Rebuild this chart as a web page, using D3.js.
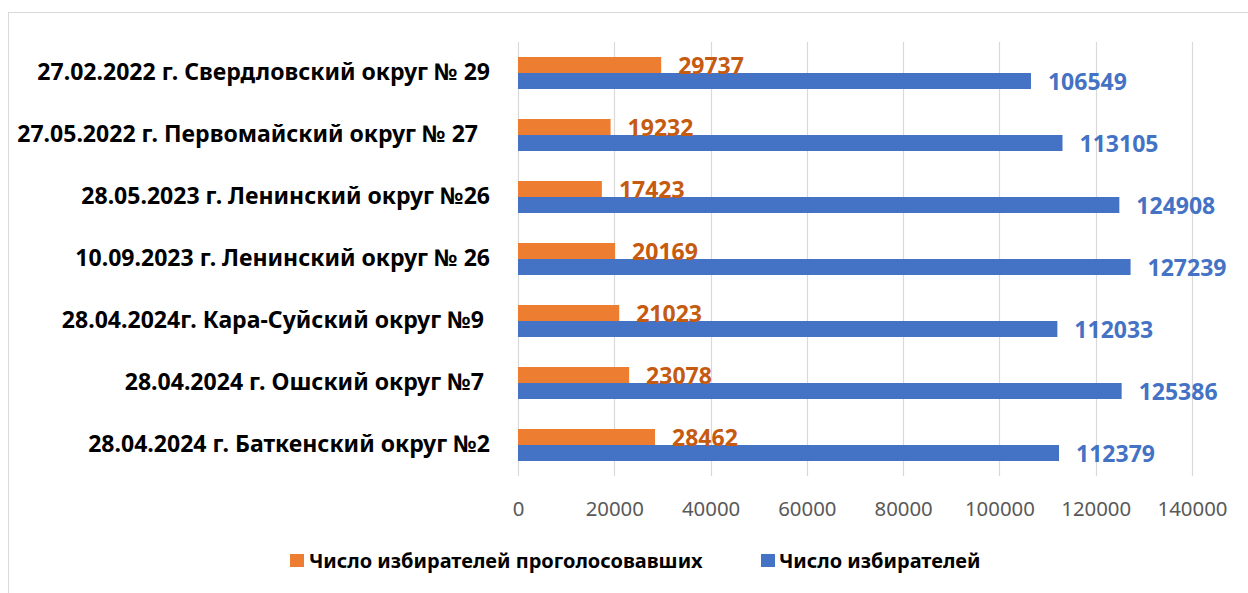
<!DOCTYPE html>
<html>
<head>
<meta charset="utf-8">
<script src="https://cdn.jsdelivr.net/npm/d3@7"></script>
<style>
  body { margin: 0; background: #fff; }
  text { font-family: "Noto Sans", "Open Sans", sans-serif; white-space: pre; }
</style>
</head>
<body>
<svg id="chart" width="1248" height="593"></svg>
<script>
// categories, top to bottom
const categories = [
  "27.02.2022 г. Свердловский округ № 29",
  "27.05.2022 г. Первомайский округ № 27  ",
  "28.05.2023 г. Ленинский округ №26",
  "10.09.2023 г. Ленинский округ № 26",
  "28.04.2024г. Кара-Суйский округ №9 ",
  "28.04.2024 г. Ошский округ №7 ",
  "28.04.2024 г. Баткенский округ №2"
];
const votedValues  = [29737, 19232, 17423, 20169, 21023, 23078, 28462];
const voterValues  = [106549, 113105, 124908, 127239, 112033, 125386, 112379];
const seriesNames  = ["Число избирателей проголосовавших", "Число избирателей"];
const seriesColors = ["#ed7d31", "#4472c4"];
const labelColors  = ["#c55a11", "#4472c4"];
const xTicks = [0, 20000, 40000, 60000, 80000, 100000, 120000, 140000];

const seriesValues = [votedValues, voterValues];

const svg = d3.select("#chart");

// chart frame (only top and left edges are inside the picture)
svg.append("rect")
   .attr("x", 8.5).attr("y", 12.5)
   .attr("width", 1400).attr("height", 800)
   .attr("fill", "none").attr("stroke", "#d9d9d9");

const x = d3.scaleLinear().domain([0, 140000]).range([518, 1192]);

const y0 = d3.scaleBand()
    .domain(categories)
    .range([42, 476])
    .paddingInner(0.484)
    .paddingOuter(0.242);

const y1 = d3.scaleBand()
    .domain(seriesNames)
    .range([0, y0.bandwidth()]);

// gridlines
svg.append("g")
   .selectAll("line")
   .data(xTicks)
   .join("line")
   .attr("x1", d => Math.round(x(d)) + 0.5)
   .attr("x2", d => Math.round(x(d)) + 0.5)
   .attr("y1", 42).attr("y2", 476)
   .attr("stroke", "#d9d9d9").attr("stroke-width", 1.2);

// x axis tick labels
const xAxis = svg.append("g")
   .attr("transform", "translate(0,508)")
   .call(d3.axisBottom(x).tickValues(xTicks).tickFormat(d3.format("d")).tickSize(0).tickPadding(0));
xAxis.select(".domain").remove();
xAxis.selectAll("text")
   .attr("dy", null)
   .attr("dominant-baseline", "central")
   .attr("fill", "#595959")
   .style("font-size", "20px");

// fit a font size so a reference string gets the wanted width
function fitSize(textSel, target) {
  const base = parseFloat(textSel.style("font-size"));
  return base * target / textSel.node().getComputedTextLength();
}
xAxis.selectAll("text").style("font-size", fitSize(xAxis.selectAll("text").filter(d => d === 100000), 70) + "px");

// bars
const rows = svg.append("g")
   .selectAll("g")
   .data(categories)
   .join("g")
   .attr("transform", d => `translate(0,${y0(d)})`);

seriesNames.forEach((name, si) => {
  rows.append("rect")
      .attr("x", x(0))
      .attr("y", y1(name))
      .attr("width", (d, i) => x(seriesValues[si][i]) - x(0))
      .attr("height", y1.bandwidth())
      .attr("fill", seriesColors[si]);
});

// value labels
const valueLabels = [];
seriesNames.forEach((name, si) => {
  const t = rows.append("text")
      .attr("x", (d, i) => x(seriesValues[si][i]) + 17)
      .attr("y", y1(name) + y1.bandwidth() / 2)
      .attr("dominant-baseline", "central")
      .attr("fill", labelColors[si])
      .style("font-weight", "bold")
      .style("font-size", "22px")
      .text((d, i) => seriesValues[si][i]);
  valueLabels.push(t);
});
const valSize = fitSize(valueLabels[1].filter((d, i) => i === 3), 79);
valueLabels.forEach(t => t.style("font-size", valSize + "px"));

// category labels
const catLabels = svg.append("g")
   .selectAll("text")
   .data(categories)
   .join("text")
   .attr("x", 490)
   .attr("y", d => y0(d) + y0.bandwidth() / 2 - 2)
   .attr("text-anchor", "end")
   .attr("dominant-baseline", "central")
   .attr("fill", "#000")
   .style("font-weight", "bold")
   .style("font-size", "20px")
   .text(d => d);
catLabels.style("font-size", fitSize(catLabels.filter((d, i) => i === 0), 453) + "px");

// legend
const legendPos = [{sq: 290, tx: 309}, {sq: 761, tx: 779}];
const legend = svg.append("g")
   .selectAll("g")
   .data(seriesNames)
   .join("g");
legend.append("rect")
   .attr("x", (d, i) => legendPos[i].sq)
   .attr("y", 554)
   .attr("width", 14).attr("height", 13)
   .attr("fill", (d, i) => seriesColors[i]);
const legendText = legend.append("text")
   .attr("x", (d, i) => legendPos[i].tx)
   .attr("y", 560.5)
   .attr("dominant-baseline", "central")
   .attr("fill", "#000")
   .style("font-weight", "bold")
   .style("font-size", "18px")
   .text(d => d);
legendText.style("font-size", fitSize(legendText.filter((d, i) => i === 0), 394) + "px");
</script>
</body>
</html>
